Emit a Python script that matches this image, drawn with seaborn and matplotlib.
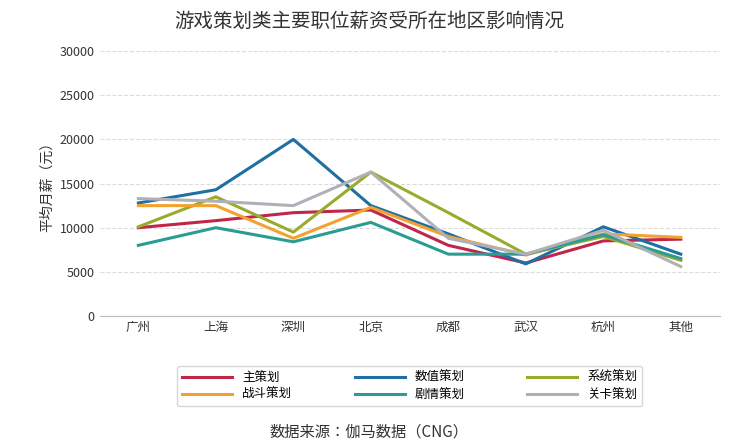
import pandas as pd
import matplotlib.pyplot as plt
import seaborn as sns

plt.rcParams['font.family'] = 'sans-serif'
plt.rcParams['font.sans-serif'] = ['Noto Sans CJK JP', 'Noto Sans CJK SC', 'Noto Sans CJK TC',
                                   'Noto Sans CJK KR', 'DejaVu Sans']

cities = ['广州', '上海', '深圳', '北京', '成都', '武汉', '杭州', '其他']
series_names = ['主策划', '数值策划', '系统策划', '战斗策划', '剧情策划', '关卡策划']
main_plan = [10000, 10800, 11700, 12000, 8000, 6000, 8500, 8700]
numeric_plan = [12800, 14300, 20000, 12500, 9300, 5900, 10100, 7000]
system_plan = [10100, 13500, 9500, 16300, 11700, 7000, 9000, 6300]
combat_plan = [12500, 12500, 8800, 12300, 9000, 6900, 9300, 8900]
story_plan = [8000, 10000, 8400, 10600, 7000, 7000, 9200, 6500]
level_plan = [13300, 13000, 12500, 16300, 8800, 7000, 9700, 5600]
colors = ['#c0254a', '#1f6fa3', '#9aab2c', '#f2a230', '#2a9c93', '#b0b0b8']

values = [main_plan, numeric_plan, system_plan, combat_plan, story_plan, level_plan]
rows = []
for name, vals in zip(series_names, values):
    for c, v in zip(cities, vals):
        rows.append({'城市': c, '薪资': v, '职位': name})
df = pd.DataFrame(rows)

fig = plt.figure(figsize=(7.38, 4.45), dpi=100)
ax = fig.add_axes([0.135, 0.29, 0.84, 0.595])
sns.lineplot(data=df, x='城市', y='薪资', hue='职位', palette=colors, linewidth=2.2,
             sort=False, ax=ax, legend=True)
ax.set_ylim(0, 30000)
ax.set_yticks(range(0, 30001, 5000))
ax.set_xlim(-0.5, 7.5)
ax.grid(axis='y', linestyle='--', color='#dddddd')
ax.set_axisbelow(True)
for s in ['top', 'right', 'left']:
    ax.spines[s].set_visible(False)
ax.spines['bottom'].set_color('#bbbbbb')
ax.tick_params(length=0, labelsize=9, colors='#333333')
ax.set_xlabel('')
ax.set_ylabel('平均月薪（元）', fontsize=10, color='#333333')
handles, labels = ax.get_legend_handles_labels()
order = [0, 3, 1, 4, 2, 5]  # legend fills column-wise; show row-wise
ax.legend([handles[i] for i in order], [labels[i] for i in order], ncol=3,
          loc='upper center', bbox_to_anchor=(0.5, -0.165),
          frameon=True, edgecolor='#cccccc', fontsize=9, handlelength=4,
          columnspacing=5, borderpad=0.4, labelspacing=0.35)
fig.suptitle('游戏策划类主要职位薪资受所在地区影响情况', y=0.975, fontsize=14, color='#333333')
fig.text(0.5, 0.02, '数据来源：伽马数据（CNG）', ha='center', fontsize=11, color='#333333')
fig.savefig('out.png')
